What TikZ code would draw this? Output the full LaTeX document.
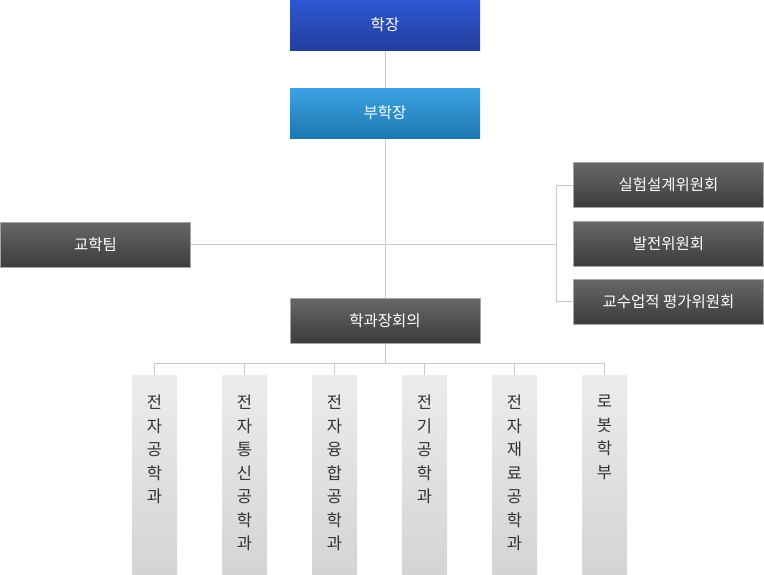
\documentclass[tikz,border=0pt]{standalone}
\usepackage{fontspec}
\setmainfont{Noto Sans CJK KR}
\usetikzlibrary{backgrounds}
\definecolor{blueT}{HTML}{2F57D4}
\definecolor{blueB}{HTML}{223F9C}
\definecolor{lblueT}{HTML}{3DA2E3}
\definecolor{lblueB}{HTML}{1A78B0}
\definecolor{darkT}{HTML}{686868}
\definecolor{darkB}{HTML}{3D3B3B}
\definecolor{colT}{HTML}{ECECEC}
\definecolor{colB}{HTML}{D4D4D4}
\definecolor{lineC}{HTML}{C8C8C8}
\definecolor{txtC}{HTML}{333333}
\tikzset{
  box/.style={rectangle, inner sep=0pt, text=white, font=\fontsize{15.5}{17}\selectfont},
  bluebox/.style={box, minimum width=190pt, minimum height=50pt, top color=blueT, bottom color=blueB},
  lbluebox/.style={box, minimum width=190pt, minimum height=50pt, top color=lblueT, bottom color=lblueB},
  darkbox/.style={box, minimum width=190pt, minimum height=45pt, top color=darkT, bottom color=darkB, draw=gray!70, line width=0.6pt},
  colbox/.style={rectangle, inner sep=0pt, minimum width=45pt, minimum height=199pt, top color=colT, bottom color=colB},
  coltext/.style={inner sep=0pt, anchor=north, align=center, text=txtC, font=\fontsize{16.5}{23.5}\selectfont},
  conn/.style={draw=lineC, line width=1pt}
}
\begin{document}
\begin{tikzpicture}[x=1pt,y=-1pt]
\useasboundingbox (0,0) rectangle (764,574);
\node[bluebox] (dean) at (385,25) {학장};
\node[lbluebox] (vdean) at (385,113) {부학장};
\node[darkbox] (meet) at (385,320.5) {학과장회의};
\node[darkbox] (team) at (95.5,244.5) {교학팀};
\node[darkbox] (k1) at (668.5,185) {실험설계위원회};
\node[darkbox] (k2) at (668.5,243.5) {발전위원회};
\node[darkbox] (k3) at (668.5,301.5) {교수업적 평가위원회};
\foreach \i/\x in {1/154.5,2/244.5,3/334.5,4/424.5,5/514.5,6/604.5}{
  \node[colbox] (d\i) at (\x,474.5) {};
}
\node[coltext] at ([yshift=-20pt]d1.north) {전\\자\\공\\학\\과};
\node[coltext] at ([yshift=-20pt]d2.north) {전\\자\\통\\신\\공\\학\\과};
\node[coltext] at ([yshift=-20pt]d3.north) {전\\자\\융\\합\\공\\학\\과};
\node[coltext] at ([yshift=-20pt]d4.north) {전\\기\\공\\학\\과};
\node[coltext] at ([yshift=-20pt]d5.north) {전\\자\\재\\료\\공\\학\\과};
\node[coltext] at ([yshift=-20pt]d6.north) {로\\봇\\학\\부};
\coordinate (br) at (556,244.5);
\coordinate (bus) at (385,363);
\begin{scope}[on background layer]
\draw[conn] (dean.south) -- (meet.north);
\draw[conn] (team.east) -- (br);
\draw[conn] (k1.west) -| (br);
\draw[conn] (k3.west) -| (br);
\draw[conn] (meet.south) -- (bus);
\draw[conn] (d1.north |- bus) -- (d6.north |- bus);
\foreach \i in {1,...,6}{
  \draw[conn] (d\i.north) -- (d\i.north |- bus);
}
\end{scope}
\end{tikzpicture}
\end{document}
